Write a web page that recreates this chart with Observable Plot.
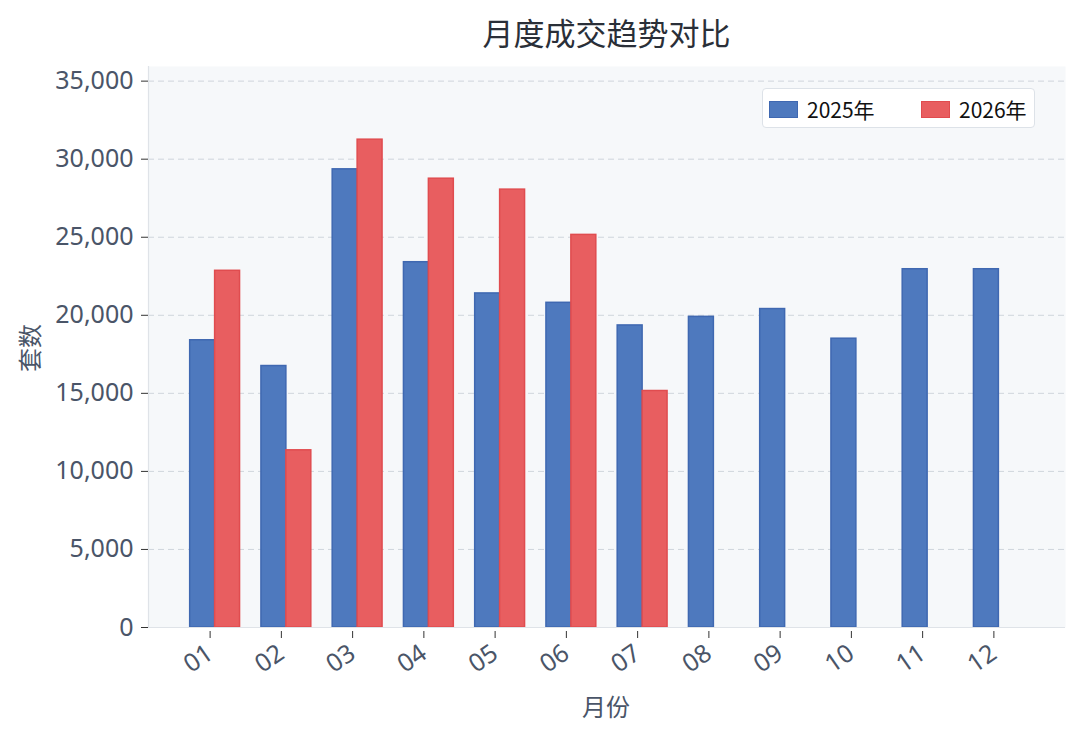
<!DOCTYPE html>
<html>
<head>
<meta charset="utf-8">
<script src="https://cdn.jsdelivr.net/npm/d3@7"></script>
<script src="https://cdn.jsdelivr.net/npm/@observablehq/plot@0.6"></script>
<style>
  html, body { margin: 0; padding: 0; background: #ffffff; }
  #wrap { position: relative; width: 1080px; height: 735px; font-family: "Noto Sans CJK SC", "Noto Sans", sans-serif; }
  #title { position: absolute; left: 148px; width: 917px; top: 10px; text-align: center; font-size: 31px; color: #2a2f38; line-height: 44px; }
  #ylab { position: absolute; left: 28px; top: 348px; transform: translate(-50%, -50%) rotate(-90deg); font-size: 24px; color: #4a5568; white-space: nowrap; }
  #xlab { position: absolute; left: 606px; top: 705px; transform: translate(-50%, -50%); font-size: 24px; color: #4a5568; white-space: nowrap; }
  #legend { position: absolute; left: 762px; top: 88px; width: 273px; height: 40px; background: #ffffff; border: 1px solid #dde2e8; border-radius: 4px; box-sizing: border-box; }
  .item { position: absolute; top: 0; height: 40px; display: flex; align-items: center; font-size: 21px; color: #111; }
  .patch { width: 29px; height: 17px; margin-right: 9px; box-sizing: border-box; }
  svg { position: absolute; left: 0; top: 0; }
</style>
</head>
<body>
<div id="wrap">
  <div id="chart"></div>
  <div id="title">月度成交趋势对比</div>
  <div id="ylab">套数</div>
  <div id="xlab">月份</div>
  <div id="legend"></div>
</div>
<script>
// ---- data ----
const months = ["01","02","03","04","05","06","07","08","09","10","11","12"];
const series = ["2025年", "2026年"];
const values2025 = [18400, 16750, 29350, 23400, 21400, 20800, 19350, 19900, 20400, 18500, 22950, 22950];
const values2026 = [22850, 11350, 31250, 28750, 28050, 25150, 15150];
const yTicks = [0, 5000, 10000, 15000, 20000, 25000, 30000, 35000];

const colors = { "2025年": "#4e79be", "2026年": "#e85e60" };
const strokes = { "2025年": "#3f68b1", "2026年": "#e04c4f" };

const barW = 0.35;
const rows = [];
values2025.forEach((v, i) => rows.push({ i, month: months[i], series: series[0], value: v, x1: i - barW, x2: i }));
values2026.forEach((v, i) => rows.push({ i, month: months[i], series: series[1], value: v, x1: i, x2: i + barW }));

const allVals = values2025.concat(values2026);
const yMax = d3.max(allVals) * 1.15;
const xMin = -barW - 0.05 * (months.length - 1 + 2 * barW);
const xMax = months.length - 1 + barW + 0.05 * (months.length - 1 + 2 * barW);

const tickFont = "'Noto Sans', 'Noto Sans CJK SC', sans-serif";

const chart = Plot.plot({
  width: 1080,
  height: 735,
  marginLeft: 148,
  marginRight: 15,
  marginTop: 66,
  marginBottom: 108,
  style: { fontFamily: tickFont, fontSize: "25px", color: "#4a5568", background: "transparent", overflow: "visible" },
  x: { domain: [xMin, xMax], axis: null },
  y: { domain: [0, yMax], axis: null },
  marks: [
    Plot.frame({ fill: "#f6f8fa", stroke: null }),
    Plot.gridY(yTicks, { stroke: "#cfd5dc", strokeOpacity: 1, strokeDasharray: "6,4", strokeWidth: 1 }),
    Plot.rectY(rows, {
      x1: "x1", x2: "x2", y: "value",
      fill: d => colors[d.series],
      stroke: d => strokes[d.series],
      strokeWidth: 1.5,
      fillOpacity: 1
    }),
    Plot.ruleX([xMin], { stroke: "#dfe3e8", strokeWidth: 1.2 }),
    Plot.ruleY([0], { stroke: "#dfe3e8", strokeWidth: 1.2 }),
    Plot.axisY(yTicks, {
      label: null,
      tickFormat: d3.format(","),
      tickSize: 7,
      tickPadding: 8,
      stroke: "#333",
      fill: "#4a5568",
      fontSize: 25
    }),
    Plot.axisX(d3.range(months.length), {
      label: null,
      tickFormat: i => months[i],
      tickSize: 7,
      tickPadding: 12,
      tickRotate: -35,
      dx: -5,
      dy: 4,
      stroke: "#333",
      fill: "#4a5568",
      fontSize: 25
    })
  ]
});
document.getElementById("chart").appendChild(chart);

// ---- legend ----
const legend = document.getElementById("legend");
const lx = [6, 158];
series.forEach((s, k) => {
  const it = document.createElement("div");
  it.className = "item";
  it.style.left = lx[k] + "px";
  const p = document.createElement("div");
  p.className = "patch";
  p.style.background = colors[s];
  p.style.border = "1px solid " + strokes[s];
  const t = document.createElement("span");
  t.textContent = s;
  it.appendChild(p);
  it.appendChild(t);
  legend.appendChild(it);
});
</script>
</body>
</html>
